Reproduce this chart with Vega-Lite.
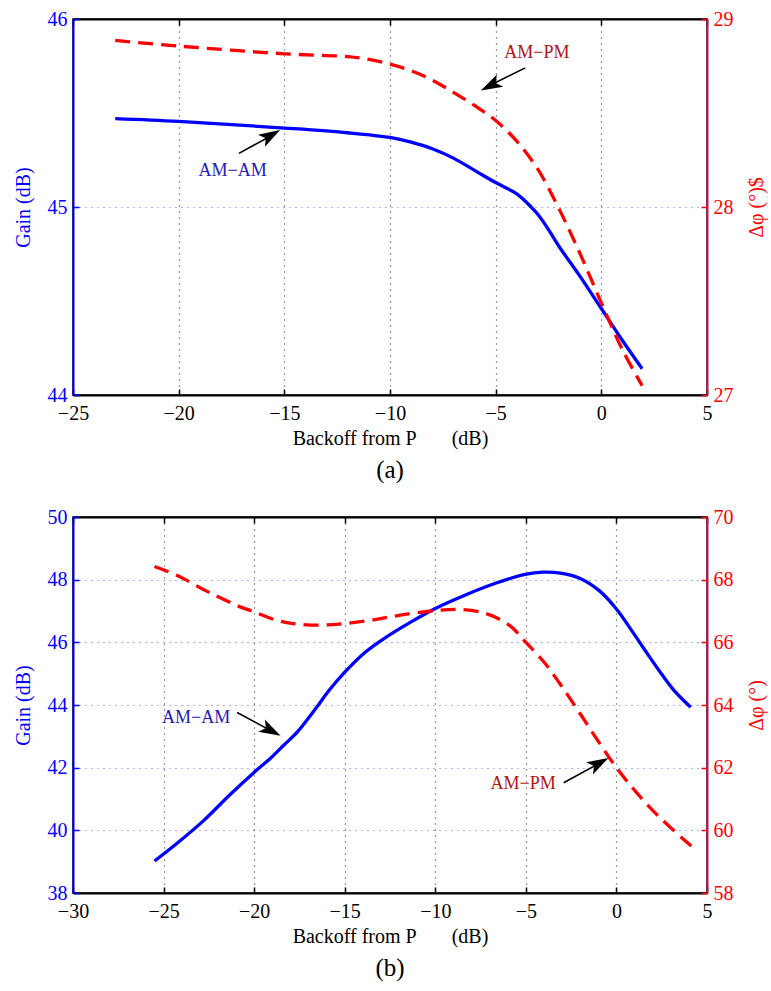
{
  "$schema": "https://vega.github.io/schema/vega-lite/v6.json",
  "background": "white",
  "padding": {"left": 12, "top": 8, "right": 2, "bottom": 4},
  "spacing": 22,
  "config": {
    "font": "Liberation Serif",
    "view": {"stroke": "black", "strokeWidth": 1.5},
    "axis": {
      "labelFont": "Liberation Serif",
      "titleFont": "Liberation Serif",
      "labelFontSize": 20,
      "titleFontSize": 20,
      "titleFontWeight": "normal",
      "tickSize": -6,
      "tickWidth": 1.5,
      "labelPadding": 12,
      "domainWidth": 2,
      "labelFlush": false,
      "labelOverlap": false
    },
    "title": {"font": "Liberation Serif", "fontSize": 25, "fontWeight": "normal", "color": "black"}
  },
  "datasets": {
    "a_amam": [
      {"x": -23.0, "gain": 45.47}, {"x": -20.0, "gain": 45.455}, {"x": -15.0, "gain": 45.42},
      {"x": -12.0, "gain": 45.395}, {"x": -10.0, "gain": 45.37}, {"x": -9.0, "gain": 45.345},
      {"x": -8.0, "gain": 45.31}, {"x": -7.0, "gain": 45.26}, {"x": -6.0, "gain": 45.195},
      {"x": -5.0, "gain": 45.13}, {"x": -4.0, "gain": 45.07}, {"x": -3.5, "gain": 45.02},
      {"x": -3.0, "gain": 44.96}, {"x": -2.5, "gain": 44.88}, {"x": -2.0, "gain": 44.79},
      {"x": -1.0, "gain": 44.63}, {"x": 0.0, "gain": 44.46}, {"x": 1.0, "gain": 44.29},
      {"x": 1.93, "gain": 44.14}
    ],
    "a_ampm": [
      {"x": -23.0, "phase": 28.886}, {"x": -20.0, "phase": 28.856}, {"x": -15.0, "phase": 28.815},
      {"x": -12.0, "phase": 28.8}, {"x": -11.0, "phase": 28.785}, {"x": -10.0, "phase": 28.76},
      {"x": -9.0, "phase": 28.725}, {"x": -8.0, "phase": 28.675}, {"x": -7.0, "phase": 28.61},
      {"x": -6.0, "phase": 28.54}, {"x": -5.0, "phase": 28.46}, {"x": -4.0, "phase": 28.35},
      {"x": -3.0, "phase": 28.2}, {"x": -2.0, "phase": 27.99}, {"x": -1.0, "phase": 27.75},
      {"x": 0.0, "phase": 27.49}, {"x": 1.0, "phase": 27.24}, {"x": 1.93, "phase": 27.05}
    ],
    "b_amam": [
      {"x": -25.5, "gain": 39.02}, {"x": -24.27, "gain": 39.58}, {"x": -22.79, "gain": 40.31},
      {"x": -21.31, "gain": 41.15}, {"x": -20.02, "gain": 41.84}, {"x": -19.08, "gain": 42.31},
      {"x": -18.34, "gain": 42.73}, {"x": -17.6, "gain": 43.15}, {"x": -16.61, "gain": 43.88},
      {"x": -15.87, "gain": 44.46}, {"x": -15.01, "gain": 45.04}, {"x": -13.9, "gain": 45.67},
      {"x": -12.91, "gain": 46.09}, {"x": -11.43, "gain": 46.62}, {"x": -10.0, "gain": 47.08},
      {"x": -8.3, "gain": 47.52}, {"x": -6.6, "gain": 47.90}, {"x": -5.1, "gain": 48.16},
      {"x": -4.05, "gain": 48.24}, {"x": -3.1, "gain": 48.21}, {"x": -2.0, "gain": 48.04},
      {"x": -0.95, "gain": 47.65}, {"x": 0.02, "gain": 47.05}, {"x": 0.92, "gain": 46.31},
      {"x": 1.75, "gain": 45.60}, {"x": 2.5, "gain": 44.98}, {"x": 3.2, "gain": 44.45},
      {"x": 4.1, "gain": 43.93}
    ],
    "b_ampm": [
      {"x": -25.5, "phase": 68.42}, {"x": -24.27, "phase": 68.14}, {"x": -22.54, "phase": 67.61},
      {"x": -20.81, "phase": 67.14}, {"x": -20.02, "phase": 66.98}, {"x": -18.84, "phase": 66.72},
      {"x": -17.85, "phase": 66.60}, {"x": -16.37, "phase": 66.55}, {"x": -15.01, "phase": 66.60},
      {"x": -13.4, "phase": 66.72}, {"x": -11.92, "phase": 66.87}, {"x": -10.2, "phase": 67.0},
      {"x": -8.7, "phase": 67.05}, {"x": -7.2, "phase": 66.92}, {"x": -5.9, "phase": 66.54},
      {"x": -5.0, "phase": 66.0}, {"x": -4.0, "phase": 65.37}, {"x": -3.0, "phase": 64.58},
      {"x": -2.0, "phase": 63.72}, {"x": -1.0, "phase": 62.84}, {"x": 0.0, "phase": 62.0},
      {"x": 1.0, "phase": 61.28}, {"x": 2.0, "phase": 60.64}, {"x": 3.0, "phase": 60.08},
      {"x": 4.13, "phase": 59.5}
    ]
  },
  "vconcat": [
    {
      "width": 634,
      "height": 376,
      "title": {"text": "(a)", "orient": "bottom", "offset": 10},
      "layer": [
        {
          "layer": [
            {
              "data": {"name": "a_amam"},
              "mark": {"type": "line", "color": "#0000ff", "strokeWidth": 3.3, "interpolate": "catmull-rom"},
              "encoding": {
                "x": {"field": "x", "type": "quantitative", "scale": {"domain": [-25, 5], "nice": false, "zero": false},
                  "axis": {"orient": "bottom", "values": [-25, -20, -15, -10, -5, 0, 5], "title": "Backoff from P\u00a0\u00a0\u00a0\u00a0\u00a0\u00a0 (dB)", "titlePadding": 5, "labelPadding": 14, "domainColor": "black", "tickColor": "black", "labelColor": "black", "grid": true, "gridColor": "black", "gridDash": [1, 5], "gridWidth": 1.2, "gridOpacity": 0.8}},
                "y": {"field": "gain", "type": "quantitative", "scale": {"domain": [44, 46], "nice": false, "zero": false},
                  "axis": {"orient": "left", "values": [44, 45, 46], "format": ".0f", "title": "Gain (dB)", "titlePadding": 14, "domainColor": "#0000ff", "tickColor": "#0000ff", "labelColor": "#0000ff", "titleColor": "#0000ff", "grid": true, "gridColor": "#3030ff", "gridDash": [1, 5], "gridWidth": 1.2, "gridOpacity": 0.8}}
              }
            },
            {
              "data": {"values": [{"label": "AM−AM", "x": -17.45, "gain": 45.19}]},
              "mark": {"type": "text", "color": "#2020b8", "fontSize": 18},
              "encoding": {"x": {"field": "x", "type": "quantitative"}, "y": {"field": "gain", "type": "quantitative"}, "text": {"field": "label"}}
            },
            {
              "data": {"values": [{"x": -17.15, "gain": 45.285, "x2": -15.45, "gain2": 45.39}]},
              "mark": {"type": "rule", "color": "black", "strokeWidth": 1.6},
              "encoding": {"x": {"field": "x", "type": "quantitative"}, "y": {"field": "gain", "type": "quantitative"}, "x2": {"field": "x2"}, "y2": {"field": "gain2"}}
            },
            {
              "data": {"values": [{"x": -15.2, "gain": 45.41}]},
              "mark": {"type": "point", "shape": "M0,0L-0.42,1.3L0,1L0.42,1.3Z", "filled": true, "color": "black", "opacity": 1, "size": 1100, "angle": 60},
              "encoding": {"x": {"field": "x", "type": "quantitative"}, "y": {"field": "gain", "type": "quantitative"}}
            }
          ]
        },
        {
          "layer": [
            {
              "data": {"name": "a_ampm"},
              "mark": {"type": "line", "color": "#ff0000", "strokeWidth": 3.3, "strokeDash": [15, 8], "interpolate": "catmull-rom"},
              "encoding": {
                "x": {"field": "x", "type": "quantitative", "scale": {"domain": [-25, 5], "nice": false, "zero": false},
                  "axis": {"orient": "top", "values": [-25, -20, -15, -10, -5, 0, 5], "labels": false, "title": null, "domainColor": "black", "tickColor": "black", "grid": false}},
                "y": {"field": "phase", "type": "quantitative", "scale": {"domain": [27, 29], "nice": false, "zero": false},
                  "axis": {"orient": "right", "values": [27, 28, 29], "format": ".0f", "title": "Δφ (°)$", "titleAngle": 270, "titlePadding": 33, "domainColor": "#c8145a", "tickColor": "#ff0000", "labelColor": "#ff0000", "titleColor": "#ff0000", "grid": false}}
              }
            },
            {
              "data": {"values": [{"label": "AM−PM", "x": -3.05, "phase": 28.82}]},
              "mark": {"type": "text", "color": "#b01414", "fontSize": 18},
              "encoding": {"x": {"field": "x", "type": "quantitative"}, "y": {"field": "phase", "type": "quantitative"}, "text": {"field": "label"}}
            },
            {
              "data": {"values": [{"x": -3.6, "phase": 28.74, "x2": -5.4, "phase2": 28.64}]},
              "mark": {"type": "rule", "color": "black", "strokeWidth": 1.6},
              "encoding": {"x": {"field": "x", "type": "quantitative"}, "y": {"field": "phase", "type": "quantitative"}, "x2": {"field": "x2"}, "y2": {"field": "phase2"}}
            },
            {
              "data": {"values": [{"x": -5.7, "phase": 28.62}]},
              "mark": {"type": "point", "shape": "M0,0L-0.42,1.3L0,1L0.42,1.3Z", "filled": true, "color": "black", "opacity": 1, "size": 1100, "angle": 243},
              "encoding": {"x": {"field": "x", "type": "quantitative"}, "y": {"field": "phase", "type": "quantitative"}}
            }
          ]
        }
      ],
      "resolve": {"scale": {"y": "independent"}, "axis": {"x": "independent"}}
    },
    {
      "width": 634,
      "height": 376,
      "title": {"text": "(b)", "orient": "bottom", "offset": 10},
      "layer": [
        {
          "layer": [
            {
              "data": {"name": "b_amam"},
              "mark": {"type": "line", "color": "#0000ff", "strokeWidth": 3.3, "interpolate": "catmull-rom"},
              "encoding": {
                "x": {"field": "x", "type": "quantitative", "scale": {"domain": [-30, 5], "nice": false, "zero": false},
                  "axis": {"orient": "bottom", "values": [-30, -25, -20, -15, -10, -5, 0, 5], "title": "Backoff from P\u00a0\u00a0\u00a0\u00a0\u00a0\u00a0 (dB)", "titlePadding": 5, "labelPadding": 14, "domainColor": "black", "tickColor": "black", "labelColor": "black", "grid": true, "gridColor": "black", "gridDash": [1, 5], "gridWidth": 1.2, "gridOpacity": 0.8}},
                "y": {"field": "gain", "type": "quantitative", "scale": {"domain": [38, 50], "nice": false, "zero": false},
                  "axis": {"orient": "left", "values": [38, 40, 42, 44, 46, 48, 50], "format": ".0f", "title": "Gain (dB)", "titlePadding": 14, "domainColor": "#0000ff", "tickColor": "#0000ff", "labelColor": "#0000ff", "titleColor": "#0000ff", "grid": true, "gridColor": "#3030ff", "gridDash": [1, 5], "gridWidth": 1.2, "gridOpacity": 0.8}}
              }
            },
            {
              "data": {"values": [{"label": "AM−AM", "x": -23.2, "gain": 43.57}]},
              "mark": {"type": "text", "color": "#2020b8", "fontSize": 18},
              "encoding": {"x": {"field": "x", "type": "quantitative"}, "y": {"field": "gain", "type": "quantitative"}, "text": {"field": "label"}}
            },
            {
              "data": {"values": [{"x": -20.94, "gain": 43.76, "x2": -18.85, "gain2": 43.11}]},
              "mark": {"type": "rule", "color": "black", "strokeWidth": 1.6},
              "encoding": {"x": {"field": "x", "type": "quantitative"}, "y": {"field": "gain", "type": "quantitative"}, "x2": {"field": "x2"}, "y2": {"field": "gain2"}}
            },
            {
              "data": {"values": [{"x": -18.54, "gain": 43.02}]},
              "mark": {"type": "point", "shape": "M0,0L-0.42,1.3L0,1L0.42,1.3Z", "filled": true, "color": "black", "opacity": 1, "size": 1100, "angle": 118},
              "encoding": {"x": {"field": "x", "type": "quantitative"}, "y": {"field": "gain", "type": "quantitative"}}
            }
          ]
        },
        {
          "layer": [
            {
              "data": {"name": "b_ampm"},
              "mark": {"type": "line", "color": "#ff0000", "strokeWidth": 3.3, "strokeDash": [15, 8], "interpolate": "catmull-rom"},
              "encoding": {
                "x": {"field": "x", "type": "quantitative", "scale": {"domain": [-30, 5], "nice": false, "zero": false},
                  "axis": {"orient": "top", "values": [-30, -25, -20, -15, -10, -5, 0, 5], "labels": false, "title": null, "domainColor": "black", "tickColor": "black", "grid": false}},
                "y": {"field": "phase", "type": "quantitative", "scale": {"domain": [58, 70], "nice": false, "zero": false},
                  "axis": {"orient": "right", "values": [58, 60, 62, 64, 66, 68, 70], "format": ".0f", "title": "Δφ (°)", "titleAngle": 270, "titlePadding": 33, "domainColor": "#c8145a", "tickColor": "#ff0000", "labelColor": "#ff0000", "titleColor": "#ff0000", "grid": false}}
              }
            },
            {
              "data": {"values": [{"label": "AM−PM", "x": -5.15, "phase": 61.47}]},
              "mark": {"type": "text", "color": "#b01414", "fontSize": 18},
              "encoding": {"x": {"field": "x", "type": "quantitative"}, "y": {"field": "phase", "type": "quantitative"}, "text": {"field": "label"}}
            },
            {
              "data": {"values": [{"x": -2.91, "phase": 61.52, "x2": -0.75, "phase2": 62.2}]},
              "mark": {"type": "rule", "color": "black", "strokeWidth": 1.6},
              "encoding": {"x": {"field": "x", "type": "quantitative"}, "y": {"field": "phase", "type": "quantitative"}, "x2": {"field": "x2"}, "y2": {"field": "phase2"}}
            },
            {
              "data": {"values": [{"x": -0.44, "phase": 62.31}]},
              "mark": {"type": "point", "shape": "M0,0L-0.42,1.3L0,1L0.42,1.3Z", "filled": true, "color": "black", "opacity": 1, "size": 1100, "angle": 61},
              "encoding": {"x": {"field": "x", "type": "quantitative"}, "y": {"field": "phase", "type": "quantitative"}}
            }
          ]
        }
      ],
      "resolve": {"scale": {"y": "independent"}, "axis": {"x": "independent"}}
    }
  ]
}
